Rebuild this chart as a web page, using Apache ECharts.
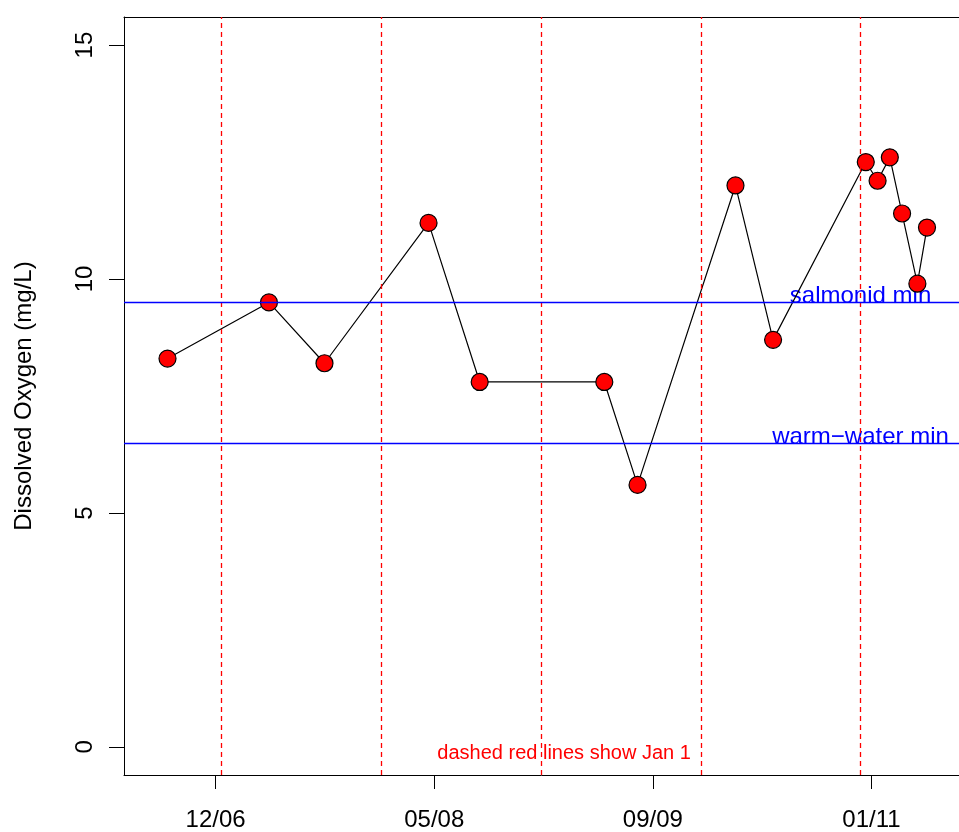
<!DOCTYPE html>
<html>
<head>
<meta charset="utf-8">
<title>Dissolved Oxygen</title>
<script src="https://cdn.jsdelivr.net/npm/echarts@6/dist/echarts.min.js"></script>
<style>
  html, body { margin: 0; padding: 0; background: #ffffff; }
  #chart { width: 959px; height: 832px; }
</style>
</head>
<body>
<div id="chart"></div>
<script>
// Sampling dates and dissolved oxygen readings (mg/L)
const sampleDates = ['2006-08-30', '2007-04-19', '2007-08-24', '2008-04-18', '2008-08-13',
                     '2009-05-25', '2009-08-09', '2010-03-21', '2010-06-15', '2011-01-13',
                     '2011-02-09', '2011-03-09', '2011-04-06', '2011-05-11', '2011-06-02'];
const oxygenValues = [8.3, 9.5, 8.2, 11.2, 7.8, 7.8, 5.6, 12.0, 8.7, 12.5, 12.1, 12.6, 11.4, 9.9, 11.1];

// Year boundaries drawn as dashed reference lines
const yearStarts = ['2007-01-01', '2008-01-01', '2009-01-01', '2010-01-01', '2011-01-01'];

// Habitat thresholds
const thresholdValues = [9.5, 6.5];
const thresholdNames = ['salmonid min', 'warm\u2212water min'];

// Axis ticks: x in days since 1970-01-01, y in mg/L
const xTickDays = [13500, 14000, 14500, 15000];
const yTickValues = [0, 5, 10, 15];

// Text notes: [date, value, text]
const notes = [
  ['2011-01-01', 9.63, thresholdNames[0]],
  ['2011-01-01', 6.62, thresholdNames[1]],
  ['2009-02-22', -0.13, 'dashed red lines show Jan 1']
];

const DAY_MS = 86400000;
function toDay(s) {
  const p = s.split('-').map(Number);
  return Date.UTC(p[0], p[1] - 1, p[2]) / DAY_MS;
}
function dayLabel(d) {
  const dt = new Date(d * DAY_MS);
  const mm = String(dt.getUTCMonth() + 1).padStart(2, '0');
  const yy = String(dt.getUTCFullYear() % 100).padStart(2, '0');
  return mm + '/' + yy;
}

const FONT = 'Liberation Sans, Arial, Helvetica, sans-serif';
const seriesData = sampleDates.map((d, i) => [toDay(d), oxygenValues[i]]);
const X_MIN = 13290.5;
const X_MAX = 15200.2;

const chart = echarts.init(document.getElementById('chart'), null, { renderer: 'canvas' });

chart.setOption({
  animation: false,
  backgroundColor: '#ffffff',
  grid: {
    left: 124, top: 17, right: 0, bottom: 57,
    show: false
  },
  xAxis: [
    {
      type: 'value',
      min: X_MIN,
      max: X_MAX,
      position: 'bottom',
      axisLine: { show: true, onZero: false, lineStyle: { color: '#000000', width: 1 } },
      axisTick: {
        show: true, length: 14, inside: false,
        customValues: xTickDays,
        lineStyle: { color: '#000000', width: 1 }
      },
      axisLabel: {
        show: true, margin: 33,
        customValues: xTickDays,
        formatter: v => dayLabel(v),
        color: '#000000', fontSize: 24, fontFamily: FONT
      },
      splitLine: { show: false }
    },
    {
      // top edge of the plot frame
      type: 'value',
      min: X_MIN,
      max: X_MAX,
      position: 'top',
      axisLine: { show: true, onZero: false, lineStyle: { color: '#000000', width: 1 } },
      axisTick: { show: false },
      axisLabel: { show: false },
      splitLine: { show: false }
    }
  ],
  yAxis: {
    type: 'value',
    min: -0.6,
    max: 15.6,
    name: 'Dissolved Oxygen (mg/L)',
    nameLocation: 'middle',
    nameRotate: 90,
    nameGap: 88,
    nameTextStyle: { color: '#000000', fontSize: 24, fontFamily: FONT },
    axisLine: { show: true, onZero: false, lineStyle: { color: '#000000', width: 1 } },
    axisTick: {
      show: true, length: 15,
      customValues: yTickValues,
      lineStyle: { color: '#000000', width: 1 }
    },
    axisLabel: {
      show: true, margin: 27, rotate: 90,
      customValues: yTickValues,
      formatter: v => String(v),
      color: '#000000', fontSize: 24, fontFamily: FONT
    },
    splitLine: { show: false }
  },
  series: [
    {
      name: 'reference lines',
      type: 'line',
      data: [],
      z: 1,
      markLine: {
        silent: true,
        symbol: ['none', 'none'],
        label: { show: false },
        animation: false,
        data: [
          ...yearStarts.map(d => ({
            xAxis: toDay(d),
            lineStyle: { color: '#ff0000', width: 1.3, type: [5, 4], opacity: 1 }
          })),
          ...thresholdValues.map(v => ({
            yAxis: v,
            lineStyle: { color: '#0000ff', width: 1.4, type: 'solid', opacity: 1 }
          }))
        ]
      }
    },
    {
      name: 'notes',
      type: 'scatter',
      z: 2,
      symbolSize: 0,
      silent: true,
      data: notes.map((n, i) => ({
        value: [toDay(n[0]), n[1]],
        text: n[2],
        label: i < 2
          ? { color: '#0000ff', fontSize: 24 }
          : { color: '#ff0000', fontSize: 20 }
      })),
      label: {
        show: true,
        position: 'inside',
        align: 'center',
        verticalAlign: 'middle',
        fontFamily: FONT,
        formatter: p => p.data.text
      },
      itemStyle: { color: 'transparent', opacity: 1 },
      emphasis: { disabled: true }
    },
    {
      name: 'Dissolved Oxygen',
      type: 'line',
      z: 3,
      data: seriesData,
      symbol: 'circle',
      symbolSize: 17,
      showAllSymbol: true,
      lineStyle: { color: '#000000', width: 1.2 },
      itemStyle: { color: '#ff0000', borderColor: '#000000', borderWidth: 1.2, opacity: 1 },
      emphasis: { disabled: true }
    }
  ]
});
</script>
</body>
</html>
